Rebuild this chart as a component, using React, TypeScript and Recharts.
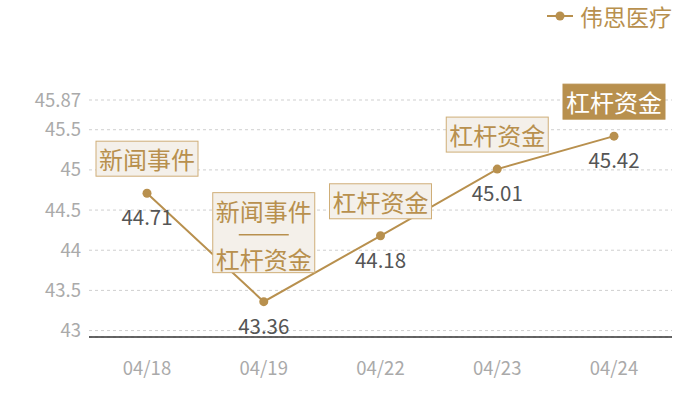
import { LineChart, Line, XAxis, YAxis, CartesianGrid, LabelList } from 'recharts'

const dates = ['04/18', '04/19', '04/22', '04/23', '04/24']
const prices = [44.71, 43.36, 44.18, 45.01, 45.42]
const events = [['新闻事件'], ['新闻事件', '杠杆资金'], ['杠杆资金'], ['杠杆资金'], ['杠杆资金']]
const highlighted = [false, false, false, false, true]
const yTicks = [43, 43.5, 44, 44.5, 45, 45.5, 45.87]
const seriesName = '伟思医疗'

const GOLD = '#b8904e'
const FONT = '"Noto Sans CJK SC", "Noto Sans", sans-serif'

const data = dates.map((d, i) => ({ date: d, price: prices[i], idx: i }))

function ValueLabel(props: any) {
  const { x, y, value } = props
  return (
    <text x={x} y={y + 23} textAnchor="middle" dominantBaseline="central" fill="#555" fontSize={20.5} fontFamily={FONT}>
      {Number(value).toFixed(2)}
    </text>
  )
}

function EventBox(props: any) {
  const { x, y, index } = props
  const lines = events[index]
  const hi = highlighted[index]
  const w = 102
  const h = lines.length > 1 ? 80 : 35
  const gap = lines.length > 1 ? 29 : 17
  const top = y - gap - h
  const left = x - w / 2
  const textFill = hi ? '#fff' : GOLD
  return (
    <g>
      <rect x={left} y={top} width={w} height={h} fill={hi ? GOLD : '#f4f0ea'} stroke={hi ? GOLD : '#cfae78'} strokeWidth={1} />
      {lines.length > 1 ? (
        <>
          <text x={x} y={top + 18} textAnchor="middle" dominantBaseline="central" fill={textFill} fontSize={24} fontFamily={FONT}>
            {lines[0]}
          </text>
          <line x1={x - 25} x2={x + 25} y1={top + 42} y2={top + 42} stroke={GOLD} strokeWidth={1.5} />
          <text x={x} y={top + 66} textAnchor="middle" dominantBaseline="central" fill={textFill} fontSize={24} fontFamily={FONT}>
            {lines[1]}
          </text>
        </>
      ) : (
        <text x={x} y={top + h / 2} textAnchor="middle" dominantBaseline="central" fill={textFill} fontSize={24} fontFamily={FONT}>
          {lines[0]}
        </text>
      )}
    </g>
  )
}

export default function App() {
  return (
    <div style={{ position: 'absolute', left: 0, top: 0, width: 700, height: 400, background: '#fff', fontFamily: FONT }}>
      <LineChart width={700} height={400} data={data} margin={{ top: 100, right: 28, left: 0, bottom: 0 }}>
        <CartesianGrid vertical={false} strokeDasharray="3 3" stroke="#cfcfcf" />
        <XAxis
          dataKey="date"
          padding={{ left: 58, right: 58 }}
          height={63}
          tickLine={false}
          axisLine={{ stroke: '#333', strokeWidth: 1.5 }}
          tickMargin={19}
          tick={{ fill: '#aaa', fontSize: 18.5, fontFamily: FONT }}
        />
        <YAxis
          type="number"
          domain={[42.92, 45.87]}
          ticks={yTicks}
          width={89}
          axisLine={false}
          tickLine={false}
          tick={{ fill: '#aaa', fontSize: 18.5, fontFamily: FONT }}
        />
        <Line
          dataKey="price"
          name={seriesName}
          stroke={GOLD}
          strokeWidth={2}
          dot={{ r: 4.5, fill: GOLD, stroke: 'none' }}
          activeDot={false}
          isAnimationActive={false}
        >
          <LabelList dataKey="price" content={(p: any) => <ValueLabel {...p} />} />
          <LabelList dataKey="idx" content={(p: any) => <EventBox {...p} />} />
        </Line>
      </LineChart>
      <div style={{ position: 'absolute', left: 546, top: 2, display: 'flex', alignItems: 'center' }}>
        <svg width={28} height={28}>
          <line x1={1} x2={27} y1={14} y2={14} stroke={GOLD} strokeWidth={2} />
          <circle cx={14} cy={14} r={4.5} fill={GOLD} />
        </svg>
        <span style={{ color: GOLD, fontSize: 23, marginLeft: 6, lineHeight: '28px' }}>{seriesName}</span>
      </div>
    </div>
  )
}
